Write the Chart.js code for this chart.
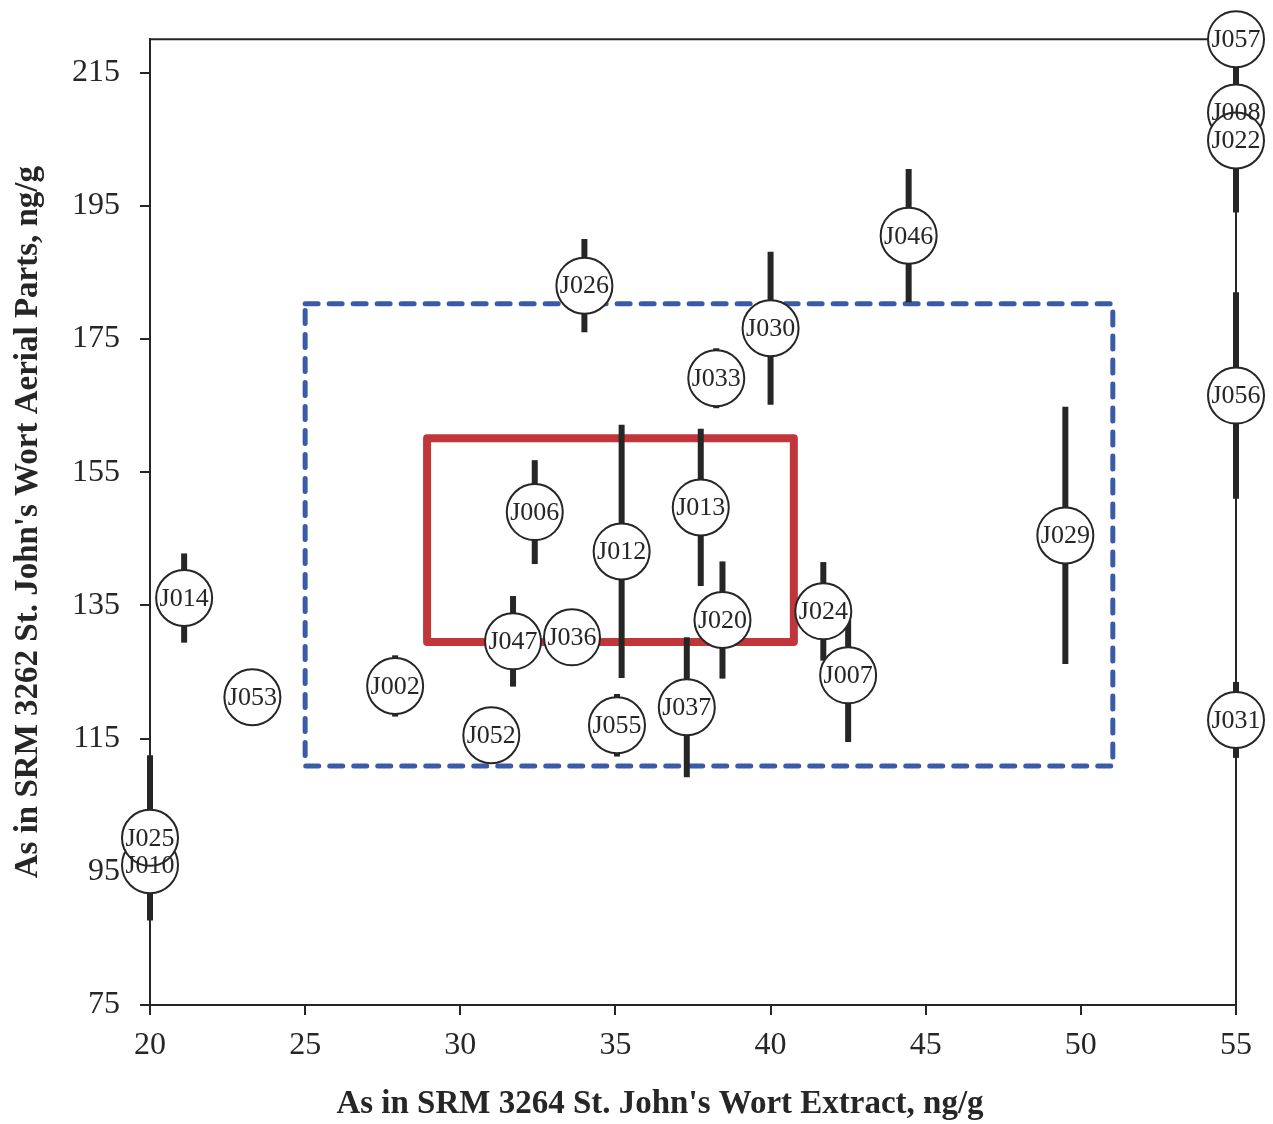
<!DOCTYPE html>
<html>
<head>
<meta charset="utf-8">
<script src="https://cdn.jsdelivr.net/npm/chart.js@4/dist/chart.umd.min.js"></script>
<style>
  html, body { margin: 0; padding: 0; background: #ffffff; }
  #wrap { width: 1273px; height: 1124px; position: relative; }
</style>
</head>
<body>
<div id="wrap"><canvas id="chart_srm"></canvas></div>
<script>
// sample ids, drawn in this order (later ones sit on top)
const sampleIds = ['J010', 'J025', 'J014', 'J053', 'J002', 'J052', 'J047', 'J036', 'J006', 'J055',
  'J012', 'J026', 'J037', 'J013', 'J033', 'J020', 'J030', 'J024', 'J007', 'J046',
  'J029', 'J057', 'J008', 'J022', 'J056', 'J031'];
const extractVals = [20, 20, 21.1, 23.3, 27.9, 31.0, 31.7, 33.6, 32.4, 35.05,
  35.2, 34.0, 37.3, 37.75, 38.25, 38.45, 40.0, 41.7, 42.5, 44.45,
  49.5, 55, 55, 55, 55, 55];
const aerialVals = [96.0, 100.1, 136.1, 121.2, 122.9, 115.5, 129.6, 130.2, 149.0, 117.0,
  143.1, 183.0, 119.7, 149.7, 169.1, 132.8, 176.6, 134.1, 124.5, 190.5,
  145.5, 220, 209.0, 204.8, 166.5, 117.8];
const aerialErr = [7.8, 12.4, 6.7, 3, 4.6, 3, 6.8, 3, 7.8, 4.7,
  19.0, 7.0, 10.5, 11.8, 4.5, 8.8, 11.5, 7.4, 10.0, 10.0,
  19.3, 3, 7.0, 10.8, 15.5, 5.7];

// consensus boxes
const blueBoxX = [25, 51.03, 51.03, 25, 25];
const blueBoxY = [180.3, 180.3, 110.9, 110.9, 180.3];
const redBoxX = [28.93, 40.75, 40.75, 28.93, 28.93];
const redBoxY = [160.1, 160.1, 129.5, 129.5, 160.1];

const xTicks = [20, 25, 30, 35, 40, 45, 50, 55];
const yTicks = [75, 95, 115, 135, 155, 175, 195, 215];

const xTitle = "As in SRM 3264 St. John's Wort Extract, ng/g";
const yTitle = "As in SRM 3262 St. John's Wort Aerial Parts, ng/g";

const serif = "'Liberation Serif', 'Times New Roman', serif";
const ink = '#262626';

const pts = (xs, ys) => xs.map((x, i) => ({ x: x, y: ys[i] }));

// error bars go under the circles but over the boxes
const errorBarPlugin = {
  id: 'errorBars',
  beforeDatasetDraw: (chart, args) => {
    if (args.index !== 0) return;
    const xs = chart.scales.x;
    const ys = chart.scales.y;
    const ctx = chart.ctx;
    ctx.save();
    ctx.strokeStyle = ink;
    ctx.lineWidth = 6;
    ctx.lineCap = 'butt';
    extractVals.forEach((xv, i) => {
      const e = aerialErr[i];
      if (!e) return;
      const hi = Math.min(aerialVals[i] + e, ys.max);
      const lo = Math.max(aerialVals[i] - e, ys.min);
      const px = xs.getPixelForValue(xv);
      ctx.beginPath();
      ctx.moveTo(px, ys.getPixelForValue(hi));
      ctx.lineTo(px, ys.getPixelForValue(lo));
      ctx.stroke();
    });
    ctx.restore();
  }
};

const frameLinePlugin = {
  id: 'frameLines',
  beforeDatasetsDraw: chart => {
    const a = chart.chartArea;
    const ctx = chart.ctx;
    ctx.save();
    ctx.strokeStyle = ink;
    ctx.lineWidth = 2;
    ctx.beginPath();
    ctx.moveTo(a.left, a.top);
    ctx.lineTo(a.right, a.top);
    ctx.lineTo(a.right, a.bottom);
    ctx.stroke();
    ctx.restore();
  }
};

const circleLabelPlugin = {
  id: 'circleLabels',
  afterDatasetsDraw: chart => {
    const meta = chart.getDatasetMeta(0);
    const ctx = chart.ctx;
    ctx.save();
    ctx.fillStyle = ink;
    ctx.font = '26px ' + serif;
    ctx.textAlign = 'center';
    ctx.textBaseline = 'middle';
    meta.data.forEach((el, i) => {
      ctx.fillText(sampleIds[i], el.x, el.y + 1);
    });
    ctx.restore();
  }
};

// x title sits a bit left of the plot centre in the original
const xTitlePlugin = {
  id: 'xTitle',
  afterDraw: chart => {
    const ctx = chart.ctx;
    ctx.save();
    ctx.fillStyle = ink;
    ctx.font = 'bold 33px ' + serif;
    ctx.textAlign = 'center';
    ctx.textBaseline = 'middle';
    ctx.fillText(xTitle, 660, 1104);
    ctx.restore();
  }
};

new Chart(document.getElementById('chart_srm'), {
  type: 'scatter',
  data: {
    datasets: [
      {
        label: 'Labs',
        data: pts(extractVals, aerialVals),
        pointRadius: 28,
        pointBorderWidth: 2,
        pointBorderColor: ink,
        pointBackgroundColor: '#ffffff',
        clip: false,
        order: 0
      },
      {
        label: 'Outer box',
        type: 'line',
        data: pts(blueBoxX, blueBoxY),
        borderColor: '#3a5ba8',
        borderWidth: 5,
        borderDash: [13, 11],
        borderCapStyle: 'round',
        pointRadius: 0,
        fill: false,
        tension: 0,
        clip: false,
        order: 2
      },
      {
        label: 'Inner box',
        type: 'line',
        data: pts(redBoxX, redBoxY),
        borderColor: '#c0363b',
        borderWidth: 8,
        borderJoinStyle: 'round',
        borderCapStyle: 'round',
        pointRadius: 0,
        fill: false,
        tension: 0,
        clip: false,
        order: 1
      }
    ]
  },
  options: {
    responsive: true,
    maintainAspectRatio: false,
    animation: false,
    layout: { padding: { top: 39, right: 37, left: 0, bottom: 0 } },
    scales: {
      x: {
        type: 'linear',
        min: 20,
        max: 55,
        afterBuildTicks: s => { s.ticks = xTicks.map(v => ({ value: v })); },
        afterFit: s => { s.height = 119; },
        ticks: {
          color: ink,
          padding: 11,
          maxRotation: 0,
          font: { size: 32, family: serif }
        },
        grid: { display: true, drawOnChartArea: false, drawTicks: true, tickLength: 10, color: ink, lineWidth: 2 },
        border: { display: true, color: ink, width: 2 }
      },
      y: {
        type: 'linear',
        min: 75,
        max: 220,
        afterBuildTicks: s => { s.ticks = yTicks.map(v => ({ value: v })); },
        afterFit: s => { s.width = 150; },
        ticks: {
          color: ink,
          padding: 20,
          font: { size: 32, family: serif }
        },
        grid: { display: true, drawOnChartArea: false, drawTicks: true, tickLength: 10, color: ink, lineWidth: 2 },
        border: { display: true, color: ink, width: 2 },
        title: {
          display: true,
          text: yTitle,
          color: ink,
          padding: { top: 9, bottom: 0 },
          font: { size: 33, weight: 'bold', family: serif }
        }
      }
    },
    plugins: {
      legend: { display: false },
      tooltip: { enabled: false }
    }
  },
  plugins: [frameLinePlugin, errorBarPlugin, circleLabelPlugin, xTitlePlugin]
});
</script>
</body>
</html>
